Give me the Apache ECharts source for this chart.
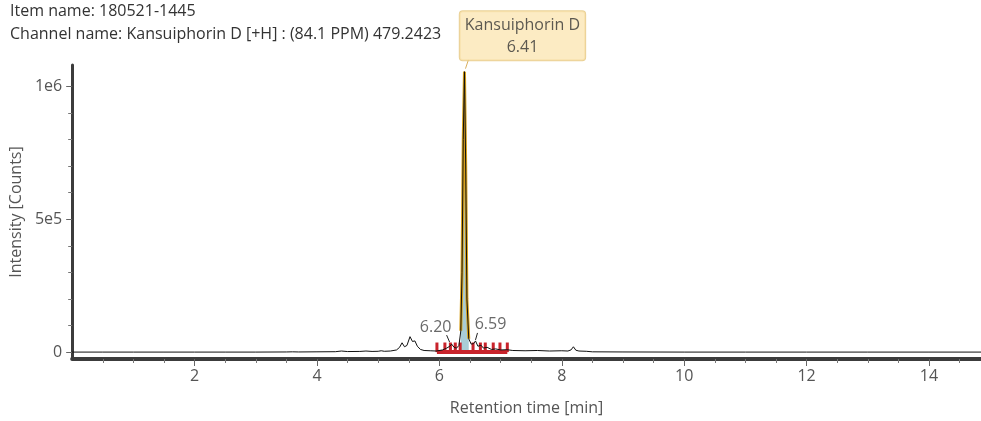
<!DOCTYPE html>
<html>
<head>
<meta charset="utf-8">
<script src="https://cdn.jsdelivr.net/npm/echarts@6/dist/echarts.min.js"></script>
<style>
html,body{margin:0;padding:0;background:#fff;}
#chart{width:981px;height:421px;}
</style>
</head>
<body>
<div id="chart"></div>
<script>
// ---- data ----
const itemName = "180521-1445";
const channelName = "Kansuiphorin D [+H] : (84.1 PPM) 479.2423";
const peakName = "Kansuiphorin D";

const traceTimes = [0, 0.5, 1.0, 1.5, 2.0, 2.5, 3.0, 3.5, 3.6, 3.7, 4.0, 4.3, 4.4, 4.5, 4.7, 4.8, 4.9, 5.0, 5.05, 5.1, 5.2, 5.3, 5.35, 5.39, 5.43, 5.47, 5.52, 5.56, 5.60, 5.64, 5.69, 5.75, 5.85, 5.95, 6.05, 6.12, 6.17, 6.20, 6.24, 6.28, 6.32, 6.35, 6.37, 6.39, 6.41, 6.43, 6.45, 6.48, 6.52, 6.56, 6.59, 6.63, 6.68, 6.72, 6.78, 6.85, 6.92, 7.0, 7.1, 7.2, 7.4, 7.6, 7.8, 8.0, 8.1, 8.15, 8.19, 8.23, 8.28, 8.4, 8.5, 9, 10, 11, 12, 13, 14, 14.85];
const traceValues = [0, 0, 0, 0, 0, 0, 0, 500, 1000, 500, 1000, 1500, 4000, 2000, 2500, 4000, 2500, 3000, 5000, 3000, 4000, 8000, 18000, 35000, 20000, 25000, 58000, 40000, 42000, 22000, 10000, 6000, 5000, 4000, 8000, 15000, 22000, 30000, 18000, 15000, 25000, 80000, 300000, 800000, 1055000, 700000, 200000, 50000, 30000, 32000, 42000, 22000, 26000, 15000, 18000, 10000, 12000, 8000, 9000, 6000, 5000, 6000, 4000, 5000, 4000, 8000, 20000, 7000, 4000, 3000, 1000, 500, 0, 0, 0, 0, 0, 0];

// integrated main peak range (min)
const mainPeakRange = [6.33, 6.50];
const mainPeakTime = 6.41;
const mainPeakHeight = 1055000;

// small labelled peaks
const minorPeakTimes = [6.20, 6.59];
const minorPeakHeights = [30000, 42000];

// integration boundary markers (red comb)
const markerTimes = [5.96, 6.09, 6.18, 6.26, 6.34, 6.55, 6.67, 6.75, 6.88, 6.99, 7.11];
const markerHeight = 36000;

// axes
const xMin = 0, xMax = 14.85;
const xMajorTicks = [2, 4, 6, 8, 10, 12, 14];
const xMinorTicks = [0.5, 1, 1.5, 2.5, 3, 3.5, 4.5, 5, 5.5, 6.5, 7, 7.5, 8.5, 9, 9.5, 10.5, 11, 11.5, 12.5, 13, 13.5, 14.5];
const yMin = -26000, yMax = 1080000;
const yMajorTicks = [0, 500000, 1000000];
const yTickLabels = {0: "0", 500000: "5e5", 1000000: "1e6"};
const yMinorTicks = [100000, 200000, 300000, 400000, 600000, 700000, 800000, 900000];

// ---- build ----
const FONT = "'Open Sans', 'Noto Sans', sans-serif";
const trace = traceTimes.map((t, i) => [t, traceValues[i]]);
const mainPeak = trace.filter(p => p[0] >= mainPeakRange[0] && p[0] <= mainPeakRange[1]);

// leader strokes: [time, value, dx0, dy0, dx1, dy1] (pixel offsets from the peak point)
const leaders = [
  [mainPeakTime, mainPeakHeight, 1, -3, 4, -12],
  [minorPeakTimes[0], minorPeakHeights[0], -2, -2, -5, -9],
  [minorPeakTimes[1], minorPeakHeights[1], 0, -1, 2, -8]
];

const chart = echarts.init(document.getElementById('chart'), null, {renderer: 'canvas'});

const axisCommonX = {type: 'value', min: xMin, max: xMax, position: 'bottom', splitLine: {show: false}};
const axisCommonY = {type: 'value', min: yMin, max: yMax, position: 'left', splitLine: {show: false}};

chart.setOption({
  animation: false,
  backgroundColor: '#ffffff',
  textStyle: {fontFamily: FONT},
  title: {
    left: 10, top: 0, padding: 0,
    text: 'Item name: ' + itemName + '\nChannel name: ' + channelName,
    textStyle: {fontFamily: FONT, fontSize: 16, fontWeight: 'normal', color: '#333', lineHeight: 23}
  },
  grid: {left: 72, right: 0, top: 65, bottom: 61, containLabel: false},
  xAxis: [
    Object.assign({}, axisCommonX, {
      name: 'Retention time [min]', nameLocation: 'middle', nameGap: 41,
      nameTextStyle: {color: '#555', fontSize: 16, fontFamily: FONT},
      axisLine: {onZero: false, lineStyle: {color: '#3c3c3c', width: 4}},
      axisTick: {customValues: xMajorTicks, length: 7, lineStyle: {color: '#666', width: 1}},
      axisLabel: {customValues: xMajorTicks, color: '#555', fontSize: 16, margin: 9, fontFamily: FONT}
    }),
    Object.assign({}, axisCommonX, {
      axisLine: {show: false, onZero: false},
      axisTick: {customValues: xMinorTicks, length: 4, lineStyle: {color: '#777', width: 1}},
      axisLabel: {show: false}
    })
  ],
  yAxis: [
    Object.assign({}, axisCommonY, {
      name: 'Intensity [Counts]', nameLocation: 'middle', nameGap: 46, nameRotate: 90,
      nameTextStyle: {color: '#555', fontSize: 16, fontFamily: FONT},
      axisLine: {show: true, onZero: false, lineStyle: {color: '#3c3c3c', width: 3}},
      axisTick: {show: true, customValues: yMajorTicks, length: 6, lineStyle: {color: '#666', width: 1}},
      axisLabel: {customValues: yMajorTicks, color: '#555', fontSize: 16, margin: 10, fontFamily: FONT,
        formatter: v => yTickLabels[v] !== undefined ? yTickLabels[v] : ''}
    }),
    Object.assign({}, axisCommonY, {
      axisLine: {show: false, onZero: false},
      axisTick: {show: true, customValues: yMinorTicks, length: 4, lineStyle: {color: '#777', width: 1}},
      axisLabel: {show: false}
    })
  ],
  series: [
    {
      type: 'line', name: 'integrated', data: mainPeak, symbol: 'none', z: 2,
      lineStyle: {color: '#d9a21b', width: 3},
      areaStyle: {color: '#a9cdd6', opacity: 1, origin: 0}
    },
    {
      type: 'line', name: 'baseline', z: 3, symbol: 'none',
      data: [[markerTimes[0], 0], [markerTimes[markerTimes.length - 1], 0]],
      lineStyle: {color: '#c8232b', width: 4}
    },
    {
      type: 'custom', name: 'markers', z: 3,
      data: markerTimes.map(t => [t, markerHeight]),
      renderItem: function (params, api) {
        const top = api.coord([api.value(0), api.value(1)]);
        const bot = api.coord([api.value(0), 0]);
        return {type: 'rect', shape: {x: top[0] - 1.5, y: top[1], width: 3, height: bot[1] - top[1]},
          style: {fill: '#c8232b'}};
      }
    },
    {
      type: 'line', name: 'trace', data: trace, symbol: 'none', z: 4,
      lineStyle: {color: '#111', width: 1}
    },
    {
      type: 'custom', name: 'leaders', z: 5,
      data: leaders,
      renderItem: function (params, api) {
        const p = api.coord([api.value(0), api.value(1)]);
        const main = params.dataIndex === 0;
        return {type: 'line',
          shape: {x1: p[0] + api.value(2), y1: p[1] + api.value(3), x2: p[0] + api.value(4), y2: p[1] + api.value(5)},
          style: {stroke: main ? '#d9b060' : '#222', lineWidth: 1}};
      }
    },
    {
      type: 'scatter', name: 'mainLabel', z: 6, symbolSize: 1, itemStyle: {color: 'rgba(0,0,0,0)'},
      data: [[mainPeakTime, mainPeakHeight]],
      label: {
        show: true, position: 'top', distance: 11, offset: [58, 0],
        formatter: peakName + '\n' + mainPeakTime.toFixed(2),
        backgroundColor: '#fbe6b4', borderColor: '#e5c57c', borderWidth: 1, borderRadius: 3,
        padding: [3, 5, 2, 5], lineHeight: 22, align: 'center', color: '#333', fontSize: 16, fontFamily: FONT
      }
    },
    {
      type: 'scatter', name: 'minorLabels', z: 6, symbolSize: 1, itemStyle: {color: 'rgba(0,0,0,0)'},
      data: [
        {value: [minorPeakTimes[0], minorPeakHeights[0]], label: {offset: [-16, 0]}},
        {value: [minorPeakTimes[1], minorPeakHeights[1]], label: {offset: [15, 0]}}
      ],
      label: {
        show: true, position: 'top', distance: 8, color: '#444', fontSize: 16, fontFamily: FONT,
        formatter: p => p.value[0].toFixed(2)
      }
    }
  ]
});
</script>
</body>
</html>
